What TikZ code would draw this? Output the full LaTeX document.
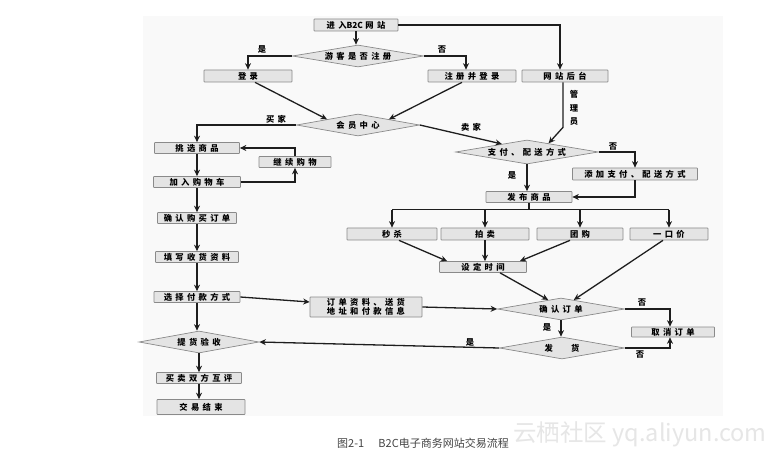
\documentclass[tikz,border=0pt]{standalone}
\usepackage{fontspec}
\newfontfamily\cjk{Noto Sans CJK SC}
\newfontfamily\cjkls[LetterSpace=40]{Noto Sans CJK SC}
\usetikzlibrary{shapes.geometric,arrows.meta,calc}
\definecolor{boxfill}{HTML}{E4E4E4}
\definecolor{boxline}{HTML}{8A8A8A}
\definecolor{linec}{HTML}{1E1E1E}
\definecolor{bgc}{HTML}{F9F9F9}
\definecolor{capc}{HTML}{444444}
\definecolor{wmc}{HTML}{E6E6E6}
\tikzset{
  txt/.style={font=\cjkls\bfseries\fontsize{8.3}{9}\selectfont, text=black},
  box/.style={txt, draw=boxline, fill=boxfill, line width=0.7pt, inner sep=0pt, rounded corners=0.6pt},
  sz/.style 2 args={minimum width=#1pt, minimum height=#2pt},
  dia/.style={txt, diamond, aspect=8, draw=boxline, fill=boxfill, line width=0.7pt, inner sep=0pt},
  arr/.style={draw=linec, line width=1.3pt, -{Stealth[length=6.5pt,width=6pt]}},
  ln/.style={draw=linec, line width=1.3pt},
  lab/.style={txt, inner sep=0pt}
}
\begin{document}
\begin{tikzpicture}[x=1pt,y=-1pt]
\useasboundingbox (0,0) rectangle (779,457);
\fill[white] (0,0) rectangle (779,457);
\fill[bgc] (143,16) rectangle (723,416);

% nodes
\node[box, sz={84}{12}] (start) at (356,25) {进入{\cjk\bfseries B2C}\hspace{0.3em}网站};
\node[dia, minimum width=128pt, minimum height=22pt] (d1) at (358,56) {游客是否注册};
\node[box, sz={88}{12}] (login) at (248,76) {登录};
\node[box, sz={88}{12}] (reg) at (472,76) {注册并登录};
\node[box, sz={86}{12}] (admin) at (565,76) {网站后台};
\node[dia, minimum width=123pt, minimum height=22pt] (d2) at (358,125) {会员中心};
\node[box, sz={85}{11}] (pick) at (197,148) {挑选商品};
\node[box, sz={72}{11}] (cont) at (295,162) {继续购物};
\node[box, sz={87}{11}] (cart) at (197,182) {加入购物车};
\node[box, sz={79}{11}] (confirm) at (197,218) {确认购买订单};
\node[box, sz={83}{11}] (fill) at (197,257) {填写收货资料};
\node[box, sz={86}{11}] (paysel) at (197,297) {选择付款方式};
\node[box, sz={112}{20}, align=left, font=\cjkls\bfseries\fontsize{8.3}{9.5}\selectfont] (info) at (366,307) {订单资料、送货\\地址和付款信息};
\node[dia, minimum width=120pt, minimum height=22pt] (d5) at (199,342) {提货验收};
\node[box, sz={85}{11}] (eval) at (199,378) {买卖双方互评};
\node[box, sz={88}{15}] (finish) at (201,407) {交易结束};
\node[dia, minimum width=129pt, minimum height=24pt] (d3) at (527,152) {支付、配送方式};
\node[box, sz={125}{12}] (addpay) at (635,174) {添加支付、配送方式};
\node[box, sz={86}{11}] (pub) at (529,197) {发布商品};
\node[box, sz={90}{12}] (sk) at (392,234) {秒杀};
\node[box, sz={88}{12}] (pm) at (485,234) {拍卖};
\node[box, sz={86}{12}] (tg) at (580,234) {团购};
\node[box, sz={78}{12}] (ykj) at (669,234) {一口价};
\node[box, sz={87}{11}] (settime) at (483,267) {设定时间};
\node[dia, minimum width=127pt, minimum height=22pt] (d4) at (561,309) {确认订单};
\node[box, sz={83}{10}] (cancel) at (673,332) {取消订单};
\node[dia, minimum width=125pt, minimum height=22pt] (d6) at (562,348) {发\hspace{2.2em}货};

% labels
\node[lab] (l1) at (262,49) {是};
\node[lab] (l2) at (442,50) {否};
\node[lab] (l3) at (276,119) {买家};
\node[lab] (l4) at (471,127) {卖家};
\node[lab, align=center, font=\cjk\bfseries\fontsize{8.3}{13.5}\selectfont] (l5) at (574,108) {管\\理\\员};
\node[lab] (l6) at (613,147) {否};
\node[lab] (l7) at (512,175) {是};
\node[lab] (l8) at (642,303) {否};
\node[lab] (l9) at (547,327) {是};
\node[lab] (l10) at (640,355) {否};
\node[lab] (l11) at (470,342) {是};

% connectors
\draw[arr] (start.east) -| ($(admin.north)+(-5,0)$);
\draw[arr] (start.south) -- (start.south |- d1.north);
\draw[arr] (d1.west) -| (login.north);
\draw[arr] (d1.east) -| ($(reg.north)+(-6,0)$);
\draw[arr] ($(login.south)+(7,0)$) -- (d2.north west);
\draw[arr] ($(reg.south)+(-10,0)$) -- (d2.north east);
\draw[arr] ($(admin.south)+(-2,0)$) -- ++(0,45) -- ($(d3.north)!0.3!(d3.east)$);
\draw[arr] (d2.east) -- ($(d3.north)!0.35!(d3.west)$);
\draw[arr] (d2.west) -| (pick.north);
\draw[arr] (cont.north) |- (pick.east);
\draw[arr] (cart.east) -| (cont.south);
\draw[arr] (pick.south) -- (pick.south |- cart.north);
\draw[arr] (cart.south) -- (cart.south |- confirm.north);
\draw[arr] (confirm.south) -- (confirm.south |- fill.north);
\draw[arr] (fill.south) -- (fill.south |- paysel.north);
\draw[arr] (paysel.south) -- (paysel.south |- d5.north);
\draw[arr] (d5.south) -- (d5.south |- eval.north);
\draw[arr] (eval.south) -- (eval.south |- finish.north);
\draw[arr] (paysel.east) -- ($(info.west)+(0,-5)$);
\draw[arr] (info.east) -- (d4.west);
\draw[arr] (d3.east) -| (addpay.north);
\draw[arr] (d3.south) -- (d3.south |- pub.north);
\draw[arr] (addpay.south) |- (pub.east);
\draw[ln] (pub.south) -- ++(0,7) coordinate (bar);
\draw[ln] (sk.north |- bar) -- (ykj.north |- bar);
\draw[arr] (sk.north |- bar) -- (sk.north);
\draw[arr] (pm.north |- bar) -- (pm.north);
\draw[arr] (tg.north |- bar) -- (tg.north);
\draw[arr] (ykj.north |- bar) -- (ykj.north);
\draw[arr] ($(sk.south)+(7,0)$) -- ($(settime.north west)+(8,0)$);
\draw[arr] (pm.south) -- (pm.south |- settime.north);
\draw[arr] ($(tg.south)+(-10,0)$) -- ($(settime.north east)+(-7,0)$);
\draw[arr] ($(settime.south)+(17,0)$) -- ($(d4.north)!0.2!(d4.west)$);
\draw[arr] ($(ykj.south)+(-6,0)$) -- ($(d4.north)!0.2!(d4.east)$);
\draw[arr] (d4.east) -| ($(cancel.north)+(-3,0)$);
\draw[arr] (d4.south) -- (d4.south |- d6.north);
\draw[arr] (d6.east) -| ($(cancel.south)+(-3,0)$);
\draw[arr] (d6.west) -- (d5.east);

% caption and watermark
\node[font=\cjk\fontsize{11}{13}\selectfont, text=capc, inner sep=0pt] (cap) at (423,443) {图2-1\hspace{1.3em}B2C电子商务网站交易流程};
\node[font=\cjk\fontsize{23.5}{26}\selectfont, text=wmc, inner sep=0pt] (wm) at (640,434) {云栖社区 yq.aliyun.com};
\end{tikzpicture}
\end{document}
